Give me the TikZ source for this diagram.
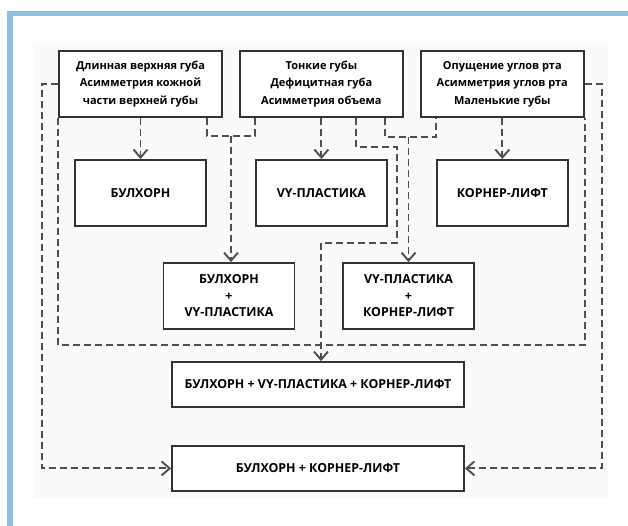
\documentclass[tikz,border=0pt]{standalone}
\usepackage{fontspec}
\setmainfont{Open Sans}
\usetikzlibrary{arrows.meta,calc,positioning}
\definecolor{FrameBlue}{HTML}{8DC0DE}
\definecolor{LineGrey}{HTML}{4F4F4F}
\definecolor{BoxEdge}{HTML}{333333}
\definecolor{PanelGrey}{HTML}{FAFAFA}

\begin{document}
\begin{tikzpicture}[
  x=1pt,y=1pt,
  box/.style={draw=BoxEdge,line width=1.9pt,fill=white,align=center,inner sep=2pt},
  topbox/.style={box,minimum width=163pt,minimum height=66pt,font=\fontsize{11}{17.5}\selectfont\bfseries},
  midbox/.style={box,minimum width=131pt,minimum height=66pt,font=\fontsize{12.4}{16.5}\selectfont\bfseries},
  widebox/.style={box,minimum width=292pt,minimum height=45pt,font=\fontsize{12.4}{16.5}\selectfont\bfseries},
  dline/.style={draw=LineGrey,line width=1.9pt,dash pattern=on 7pt off 4pt},
  arr/.style={dline,-{Straight Barb[length=8pt,width=14pt]}}
]
% frame and panel
\useasboundingbox (0,0) rectangle (628,-526);
\fill[white] (0,0) rectangle (628,-526);
\fill[PanelGrey] (33,-43) rectangle (608,-498);
\fill[FrameBlue] (7,-11) rectangle (628,-16);
\fill[FrameBlue] (7,-11) rectangle (13,-526);

% indications
\node[topbox] (lip1) at (140.5,-84) {Длинная верхняя губа\\Асимметрия кожной\\части верхней губы};
\node[topbox,right=16pt of lip1] (lip2) {Тонкие губы\\Дефицитная губа\\Асимметрия объема};
\node[topbox,right=16pt of lip2] (lip3) {Опущение углов рта\\Асимметрия углов рта\\Маленькие губы};

% single techniques
\node[midbox,below=41pt of lip1] (bull) {БУЛХОРН};
\node[midbox,below=41pt of lip2] (vy) {VY-ПЛАСТИКА};
\node[midbox,below=41pt of lip3] (corner) {КОРНЕР-ЛИФТ};

% combinations
\node[midbox] (bullvy) at (229,-296) {БУЛХОРН\\+\\VY-ПЛАСТИКА};
\node[midbox] (vycorner) at (408.5,-296) {VY-ПЛАСТИКА\\+\\КОРНЕР-ЛИФТ};
\node[widebox] (all3) at (318,-384.5) {БУЛХОРН + VY-ПЛАСТИКА + КОРНЕР-ЛИФТ};
\node[widebox,below=37pt of all3] (combo) {БУЛХОРН + КОРНЕР-ЛИФТ};

% junctions
\coordinate (j1) at ($(lip1.south -| bullvy.north)+(2pt,-18pt)$);
\coordinate (j2) at ($(lip2.south -| vycorner.north)+(0,-19pt)$);

% group outline
\draw[dline] (lip1.south west) -- ++(0,-227pt) -| (lip3.south east);

% connectors
\draw[arr] (lip1) -- (bull);
\draw[arr] (lip2.south -| vy.north) -- (vy);
\draw[arr] (lip3) -- (corner);
\draw[dline] ([xshift=-16pt]lip1.south east) |- (j1) -| ([xshift=16pt]lip2.south west);
\draw[arr] (j1) -- (j1 |- bullvy.north);
\draw[dline] ([xshift=-19pt]lip2.south east) |- (j2) -| ([xshift=16pt]lip3.south west);
\draw[arr] (j2) -- (vycorner);
\draw[arr] ([xshift=117pt]lip2.south west) -- ++(0,-29pt) -- ++(41pt,0) -- ++(0,-96pt) -| ([xshift=3pt]all3.north);
\draw[arr] (lip1.west) -- ++(-16pt,0) |- (combo.west);
\draw[arr] (lip3.east) -- ++(17pt,0) |- (combo.east);
\end{tikzpicture}
\end{document}
